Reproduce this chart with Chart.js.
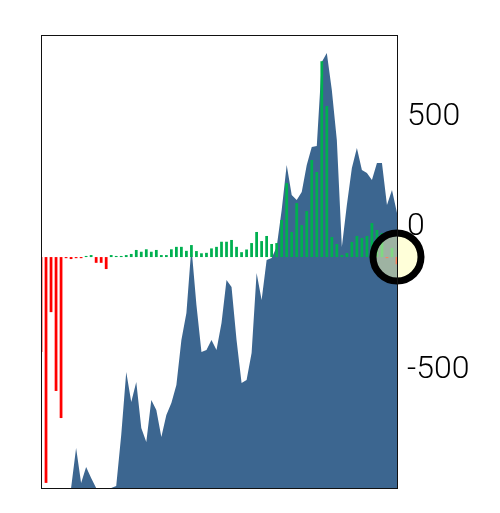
<!DOCTYPE html>
<html>
<head>
<meta charset="utf-8">
<script src="https://cdn.jsdelivr.net/npm/chart.js@4"></script>
<style>
  html, body { margin: 0; padding: 0; background: #fff; overflow: hidden; }
  #wrap { width: 500px; height: 519px; }
</style>
</head>
<body>
<div id="wrap"><canvas id="chart"></canvas></div>
<script>
// barras (variação) – positivas verdes, negativas vermelhas
const barValues = [
  -428, -1017, -248, -603, -725, -5, -9, -5, -5, 5,
  9, -26, -26, -54, 9, 5, 5, 9, 14, 32,
  24, 35, 24, 32, 9, 9, 35, 46, 46, 28,
  54, 27, 17, 19, 39, 46, 69, 69, 77, 46,
  22, 34, 63, 113, 72, 95, 59, 63, 167, 333,
  113, 243, 144, 207, 437, 383, 882, 680, 90, 59,
  9, 18, 68, 95, 86, 95, 153, 122, 108, -5,
  41, -32
];

// área (acumulado)
const areaValues = [
  0, 0, 0, 0, 0, 0, 0, 40, 5, 21,
  10, 0, 0, 0, 0, 2, 53, 116, 86, 106,
  60, 46, 88, 78, 51, 73, 85, 103, 148, 175,
  241, 183, 136, 138, 148, 138, 165, 208, 201, 148,
  105, 108, 135, 215, 188, 228, 230, 241, 278, 323,
  293, 288, 296, 323, 341, 342, 426, 435, 398, 348,
  241, 283, 320, 340, 318, 315, 308, 325, 325, 283,
  298, 275
];

const labels = barValues.map((v, i) => String(i));

// marcador no último ponto
const markerIndex = 71;
const markerValue = 0;

// rótulos do eixo direito
const tickLabels = ["500", "0", "-500"];
const tickAt = [630, 135, -510];

const markerData = labels.map((l, i) => (i === markerIndex ? markerValue : null));

// o marcador grande força 31px de margem; a tela é 6px mais alta e o excesso fica fora da janela
const framePlugin = {
  id: "frame",
  afterDraw(chart) {
    const { ctx, chartArea: a } = chart;
    ctx.save();
    ctx.strokeStyle = "#111";
    ctx.lineWidth = 1;
    ctx.strokeRect(Math.round(a.left) + 0.5, Math.round(a.top) + 0.5,
      Math.round(a.right - a.left), Math.round(a.bottom - a.top));
    ctx.restore();
  }
};

const config = {
  data: {
    labels: labels,
    datasets: [
      {
        type: "line",
        data: markerData,
        yAxisID: "y",
        showLine: false,
        pointRadius: 24,
        pointHoverRadius: 24,
        pointBackgroundColor: "rgba(255,255,180,0.5)",
        pointBorderColor: "#000",
        pointBorderWidth: 7,
        clip: false
      },
      {
        type: "bar",
        data: barValues,
        yAxisID: "y",
        backgroundColor: barValues.map(v => (v < 0 ? "#ff0000" : "#00b050")),
        barPercentage: 0.55,
        categoryPercentage: 1.0
      },
      {
        type: "line",
        data: areaValues,
        yAxisID: "y2",
        fill: "start",
        backgroundColor: "#3c6690",
        borderWidth: 0,
        pointRadius: 0,
        tension: 0
      }
    ]
  },
  options: {
    responsive: true,
    maintainAspectRatio: false,
    animation: false,
    layout: { padding: { left: 41, top: 35, bottom: 25, right: 0 } },
    plugins: {
      legend: { display: false },
      tooltip: { enabled: false }
    },
    scales: {
      x: {
        type: "category",
        offset: false,
        display: false
      },
      y: {
        type: "linear",
        position: "right",
        min: -1040,
        max: 1000,
        grid: { display: false, drawTicks: true, tickLength: 10 },
        border: { display: false },
        afterBuildTicks: (scale) => {
          scale.ticks = tickAt.map(v => ({ value: v }));
        },
        afterFit: (scale) => {
          scale.width = 103;
        },
        ticks: {
          padding: 0,
          color: "#000",
          font: { family: "Roboto", size: 32, weight: "300", lineHeight: 0.6 },
          callback: (value, index) => tickLabels[index]
        }
      },
      y2: {
        type: "linear",
        display: false,
        min: 0,
        max: 453
      }
    }
  },
  plugins: [framePlugin]
};

const myChart = new Chart(document.getElementById("chart"), config);
</script>
</body>
</html>
